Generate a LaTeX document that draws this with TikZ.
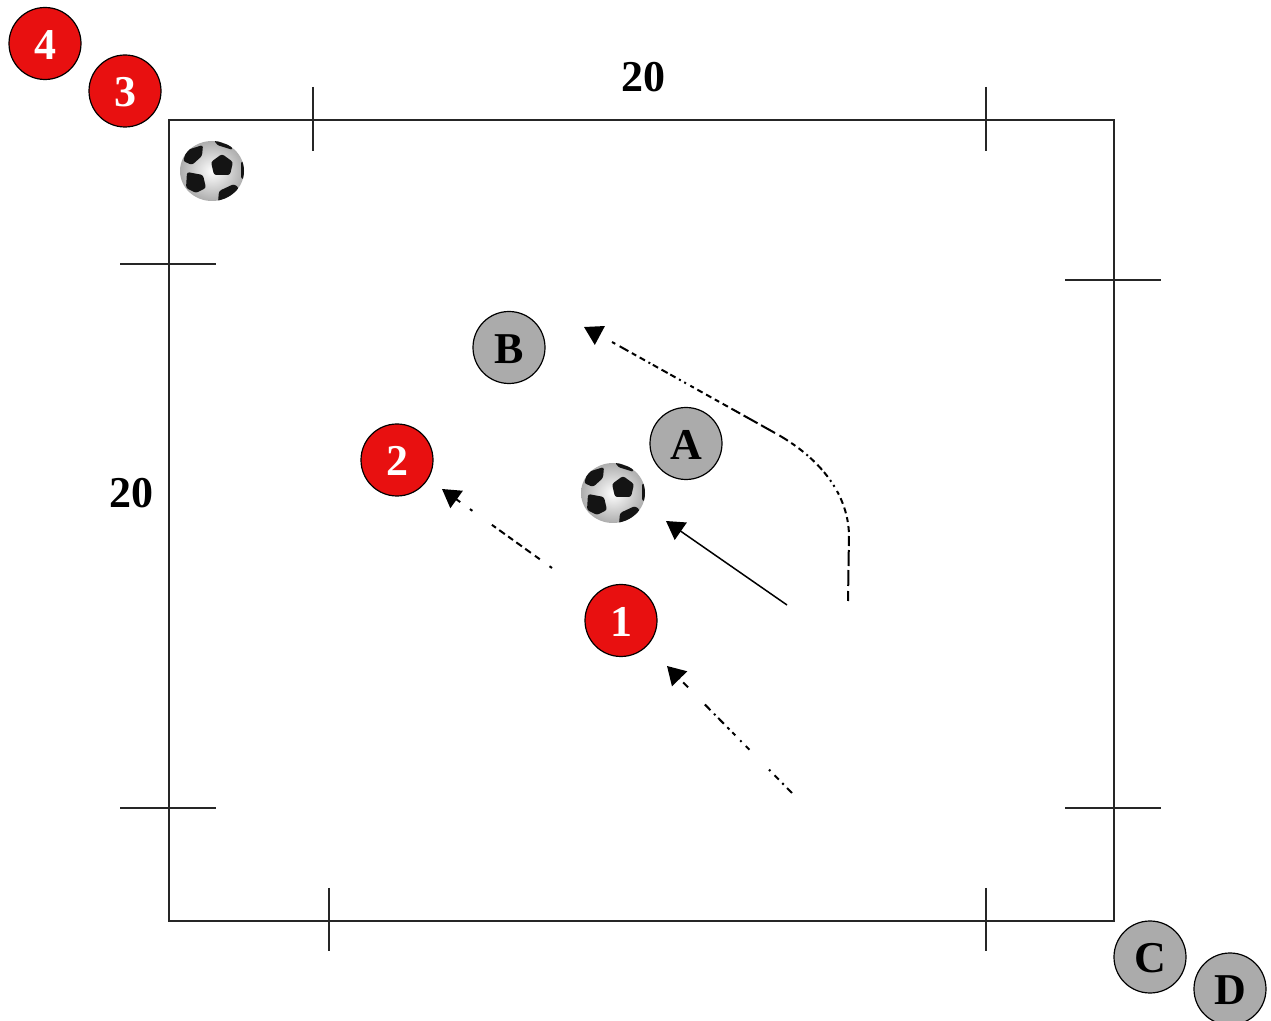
\documentclass[tikz,border=0pt]{standalone}
\usepackage{fontspec}
\setmainfont{Liberation Serif}
\usetikzlibrary{arrows.meta}
\definecolor{redteam}{HTML}{E81010}
\definecolor{greyteam}{HTML}{ABABAB}
\tikzset{
  x=0.5pt,y=-0.5pt,
  field/.style={draw=black!85,line width=0.9pt},
  tick/.style={draw=black!85,line width=0.7pt},
  player/.style={circle,draw=black,line width=0.6pt,minimum size=36pt,inner sep=0pt,text height=16pt,font=\fontsize{22}{24}\selectfont\bfseries},
  redplayer/.style={player,fill=redteam,text=white},
  greyplayer/.style={player,fill=greyteam,text=black},
  dim/.style={font=\fontsize{22}{24}\selectfont\bfseries,inner sep=0pt},
  arrowtip/.style={-{Triangle[length=9pt,width=10.5pt]}},
  run/.style={arrowtip,line width=1pt,black},
  pathA/.style={run,dash pattern=on 3.5pt off 2.4pt on 1pt off 2.5pt on 3pt off 3pt on 1pt off 14pt on 2.5pt off 3pt on 1pt off 3.5pt on 2.2pt off 2pt on 1.5pt off 2.5pt on 4pt off 2pt on 1pt off 2.5pt on 4pt off 12pt},
  pathB/.style={run,dash pattern=on 1.5pt off 6pt on 3pt off 2.5pt on 3.5pt off 2pt on 3.5pt off 2pt on 3pt off 2pt on 3.5pt off 2pt on 2.5pt off 12pt},
  pathC/.style={line width=1pt,black,dash pattern=on 5pt off 2.5pt on 8pt off 2pt on 8pt off 2pt on 5pt off 2pt on 3pt off 2pt on 2.5pt off 2pt on 3pt off 2pt on 3pt off 2pt on 2pt off 2.5pt on 1pt off 2pt on 1pt off 2pt on 3pt off 1.5pt on 3.5pt off 2pt on 3pt off 1.5pt on 1pt off 2pt on 3pt off 2pt on 2.5pt off 2pt},
  tiponly/.style={arrowtip,line width=1pt,black,dash pattern=on 0pt off 200pt},
  solidrun/.style={arrowtip,line width=0.75pt,black},
  patch/.style={fill=black!92,rounded corners=1.2pt},
}
\newcommand{\soccerball}[2]{%
  \begin{scope}[shift={(#1,#2)}]
    \shade[inner color=white,outer color=black!32] (0,0) ellipse [x radius=32,y radius=30];
    \begin{scope}
      \clip (0,0) ellipse [x radius=32,y radius=30];
      \fill[patch] (10,-17) -- (21,-9) -- (18,4) -- (2,4) -- (-1,-9) -- cycle;
      \fill[patch] (-9,-26) -- (-10,-15) -- (-20,-6) -- (-29,-10) -- (-25,-21) -- cycle;
      \fill[patch] (-25,1) -- (-9,4) -- (-6,17) -- (-16,22) -- (-26,17) -- cycle;
      \fill[patch] (7,20) -- (22,13) -- (27,17) -- (21,28) -- (6,31) -- cycle;
      \fill[patch] (2,-31) -- (19,-25) -- (21,-21) -- (5,-26) -- cycle;
      \fill[patch] (29,-10) -- (34,-8) -- (34,8) -- (29,8) -- cycle;
    \end{scope}
  \end{scope}%
}
\begin{document}
\begin{tikzpicture}
\useasboundingbox (0,0) rectangle (1271,1021);
\fill[white] (0,0) rectangle (1271,1021);

% field
\draw[field] (169,120) rectangle (1114,921);
\draw[tick] (313,87) -- (313,151);
\draw[tick] (986,87) -- (986,151);
\draw[tick] (329,888) -- (329,951);
\draw[tick] (986,888) -- (986,951);
\draw[tick] (120,264) -- (216,264);
\draw[tick] (120,808) -- (216,808);
\draw[tick] (1065,280) -- (1161,280);
\draw[tick] (1065,808) -- (1161,808);

% dimensions
\node[dim] (dimtop) at (643,77) {20};
\node[dim] (dimleft) at (131,493) {20};

% balls
\soccerball{212}{171}
\soccerball{613}{493}

% players
\node[redplayer] (p4) at (45,43.5) {4};
\node[redplayer] (p3) at (125,91) {3};
\node[redplayer] (p2) at (397,460) {2};
\node[redplayer] (p1) at (621,620.5) {1};
\node[greyplayer] (pa) at (686,443.5) {A};
\node[greyplayer] (pb) at (509,347.5) {B};
\node[greyplayer] (pc) at (1150,957) {C};
\node[greyplayer] (pd) at (1230,989) {D};

% connector ends
\coordinate (s1) at (792,793);
\coordinate (e1) at (667,666);
\coordinate (s2) at (552,568);
\coordinate (e2) at (442,489);
\coordinate (s3) at (787,605);
\coordinate (e3) at (666,521);
\coordinate (s4) at (848,601);
\coordinate (m4a) at (849,535);
\coordinate (m4b) at (775,433);
\coordinate (g4) at (612,342);
\coordinate (e4) at (584,327);

\draw[pathA] (s1) -- (e1);
\draw[pathB] (s2) -- (e2);
\draw[solidrun] (s3) -- (e3);
\draw[pathC] (s4) -- (m4a) .. controls (848,490) and (815,455) .. (m4b) -- (g4);
\draw[tiponly] (g4) -- (e4);
\end{tikzpicture}
\end{document}
